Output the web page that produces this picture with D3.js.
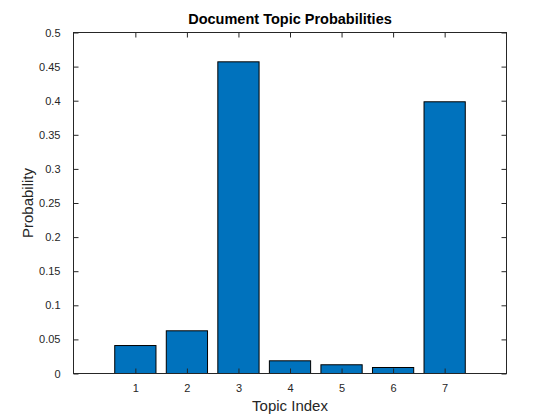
<!DOCTYPE html>
<html><head><meta charset="utf-8">
<script src="https://cdn.jsdelivr.net/npm/d3@7"></script>
<style>body{margin:0;background:#fff}svg{display:block}text{font-family:"Liberation Sans",Arial,sans-serif}</style>
</head><body><div id="chart"></div>
<script>
const categories = [1, 2, 3, 4, 5, 6, 7];
const probabilities = [0.041, 0.0626, 0.457, 0.0186, 0.0128, 0.0088, 0.3984];
const yTicks = [0, 0.05, 0.1, 0.15, 0.2, 0.25, 0.3, 0.35, 0.4, 0.45, 0.5];
const titleText = "Document Topic Probabilities";
const xLabel = "Topic Index";
const yLabel = "Probability";

const W = 560, H = 420;
const L = 73.5, R = 506.5, T = 32.5, B = 373.5;
const svg = d3.select("#chart").append("svg").attr("width", W).attr("height", H);

const x = d3.scaleLinear().domain([-0.2, 8.2]).range([L, R]);
const y = d3.scaleLinear().domain([0, 0.5]).range([B, T]);
const bw = 0.8;
const col = "#262626";

svg.append("rect").attr("x", 0).attr("y", 0).attr("width", W).attr("height", H).attr("fill", "#fff");

svg.append("g").selectAll("rect").data(categories).join("rect")
  .attr("x", (d) => x(d - bw / 2))
  .attr("width", (d) => x(d + bw / 2) - x(d - bw / 2))
  .attr("y", (d, i) => y(probabilities[i]))
  .attr("height", (d, i) => y(0) - y(probabilities[i]))
  .attr("fill", "#0072BD").attr("stroke", "#000").attr("stroke-width", 1);

const fmt = (d) => d === 0 ? "0" : String(+d.toFixed(2));
const tl = 5;
const axB = d3.axisBottom(x).tickValues(categories).tickSize(-tl).tickPadding(11).tickFormat(d3.format("d"));
const axT = d3.axisTop(x).tickValues(categories).tickSize(-tl).tickFormat("");
const axL = d3.axisLeft(y).tickValues(yTicks).tickSize(-tl).tickPadding(13).tickFormat(fmt);
const axR = d3.axisRight(y).tickValues(yTicks).tickSize(-tl).tickFormat("");

function style(g) {
  g.select(".domain").attr("stroke", col);
  g.selectAll(".tick line").attr("stroke", col);
  g.selectAll("text").attr("fill", col).style("font-size", "11px").style("font-family", "'Liberation Sans', Arial, sans-serif");
}
svg.append("g").attr("transform", `translate(0,${B})`).call(axB).call(style);
svg.append("g").attr("transform", `translate(0,${T})`).call(axT).call(style);
svg.append("g").attr("transform", `translate(${L},0)`).call(axL).call(style);
svg.append("g").attr("transform", `translate(${R},0)`).call(axR).call(style);
svg.selectAll(".domain").attr("d", null);
svg.append("rect").attr("x", L).attr("y", T).attr("width", R - L).attr("height", B - T)
  .attr("fill", "none").attr("stroke", col).attr("stroke-width", 1);

svg.append("text").attr("x", (L + R) / 2).attr("y", 24).attr("text-anchor", "middle")
  .style("font-size", "14.5px").style("font-weight", "bold").attr("fill", "#000").text(titleText);
svg.append("text").attr("x", (L + R) / 2).attr("y", 411).attr("text-anchor", "middle")
  .style("font-size", "15px").attr("fill", col).text(xLabel);
svg.append("text").attr("transform", `translate(33,${(T + B) / 2}) rotate(-90)`).attr("text-anchor", "middle")
  .style("font-size", "15px").attr("fill", col).text(yLabel);
</script></body></html>
